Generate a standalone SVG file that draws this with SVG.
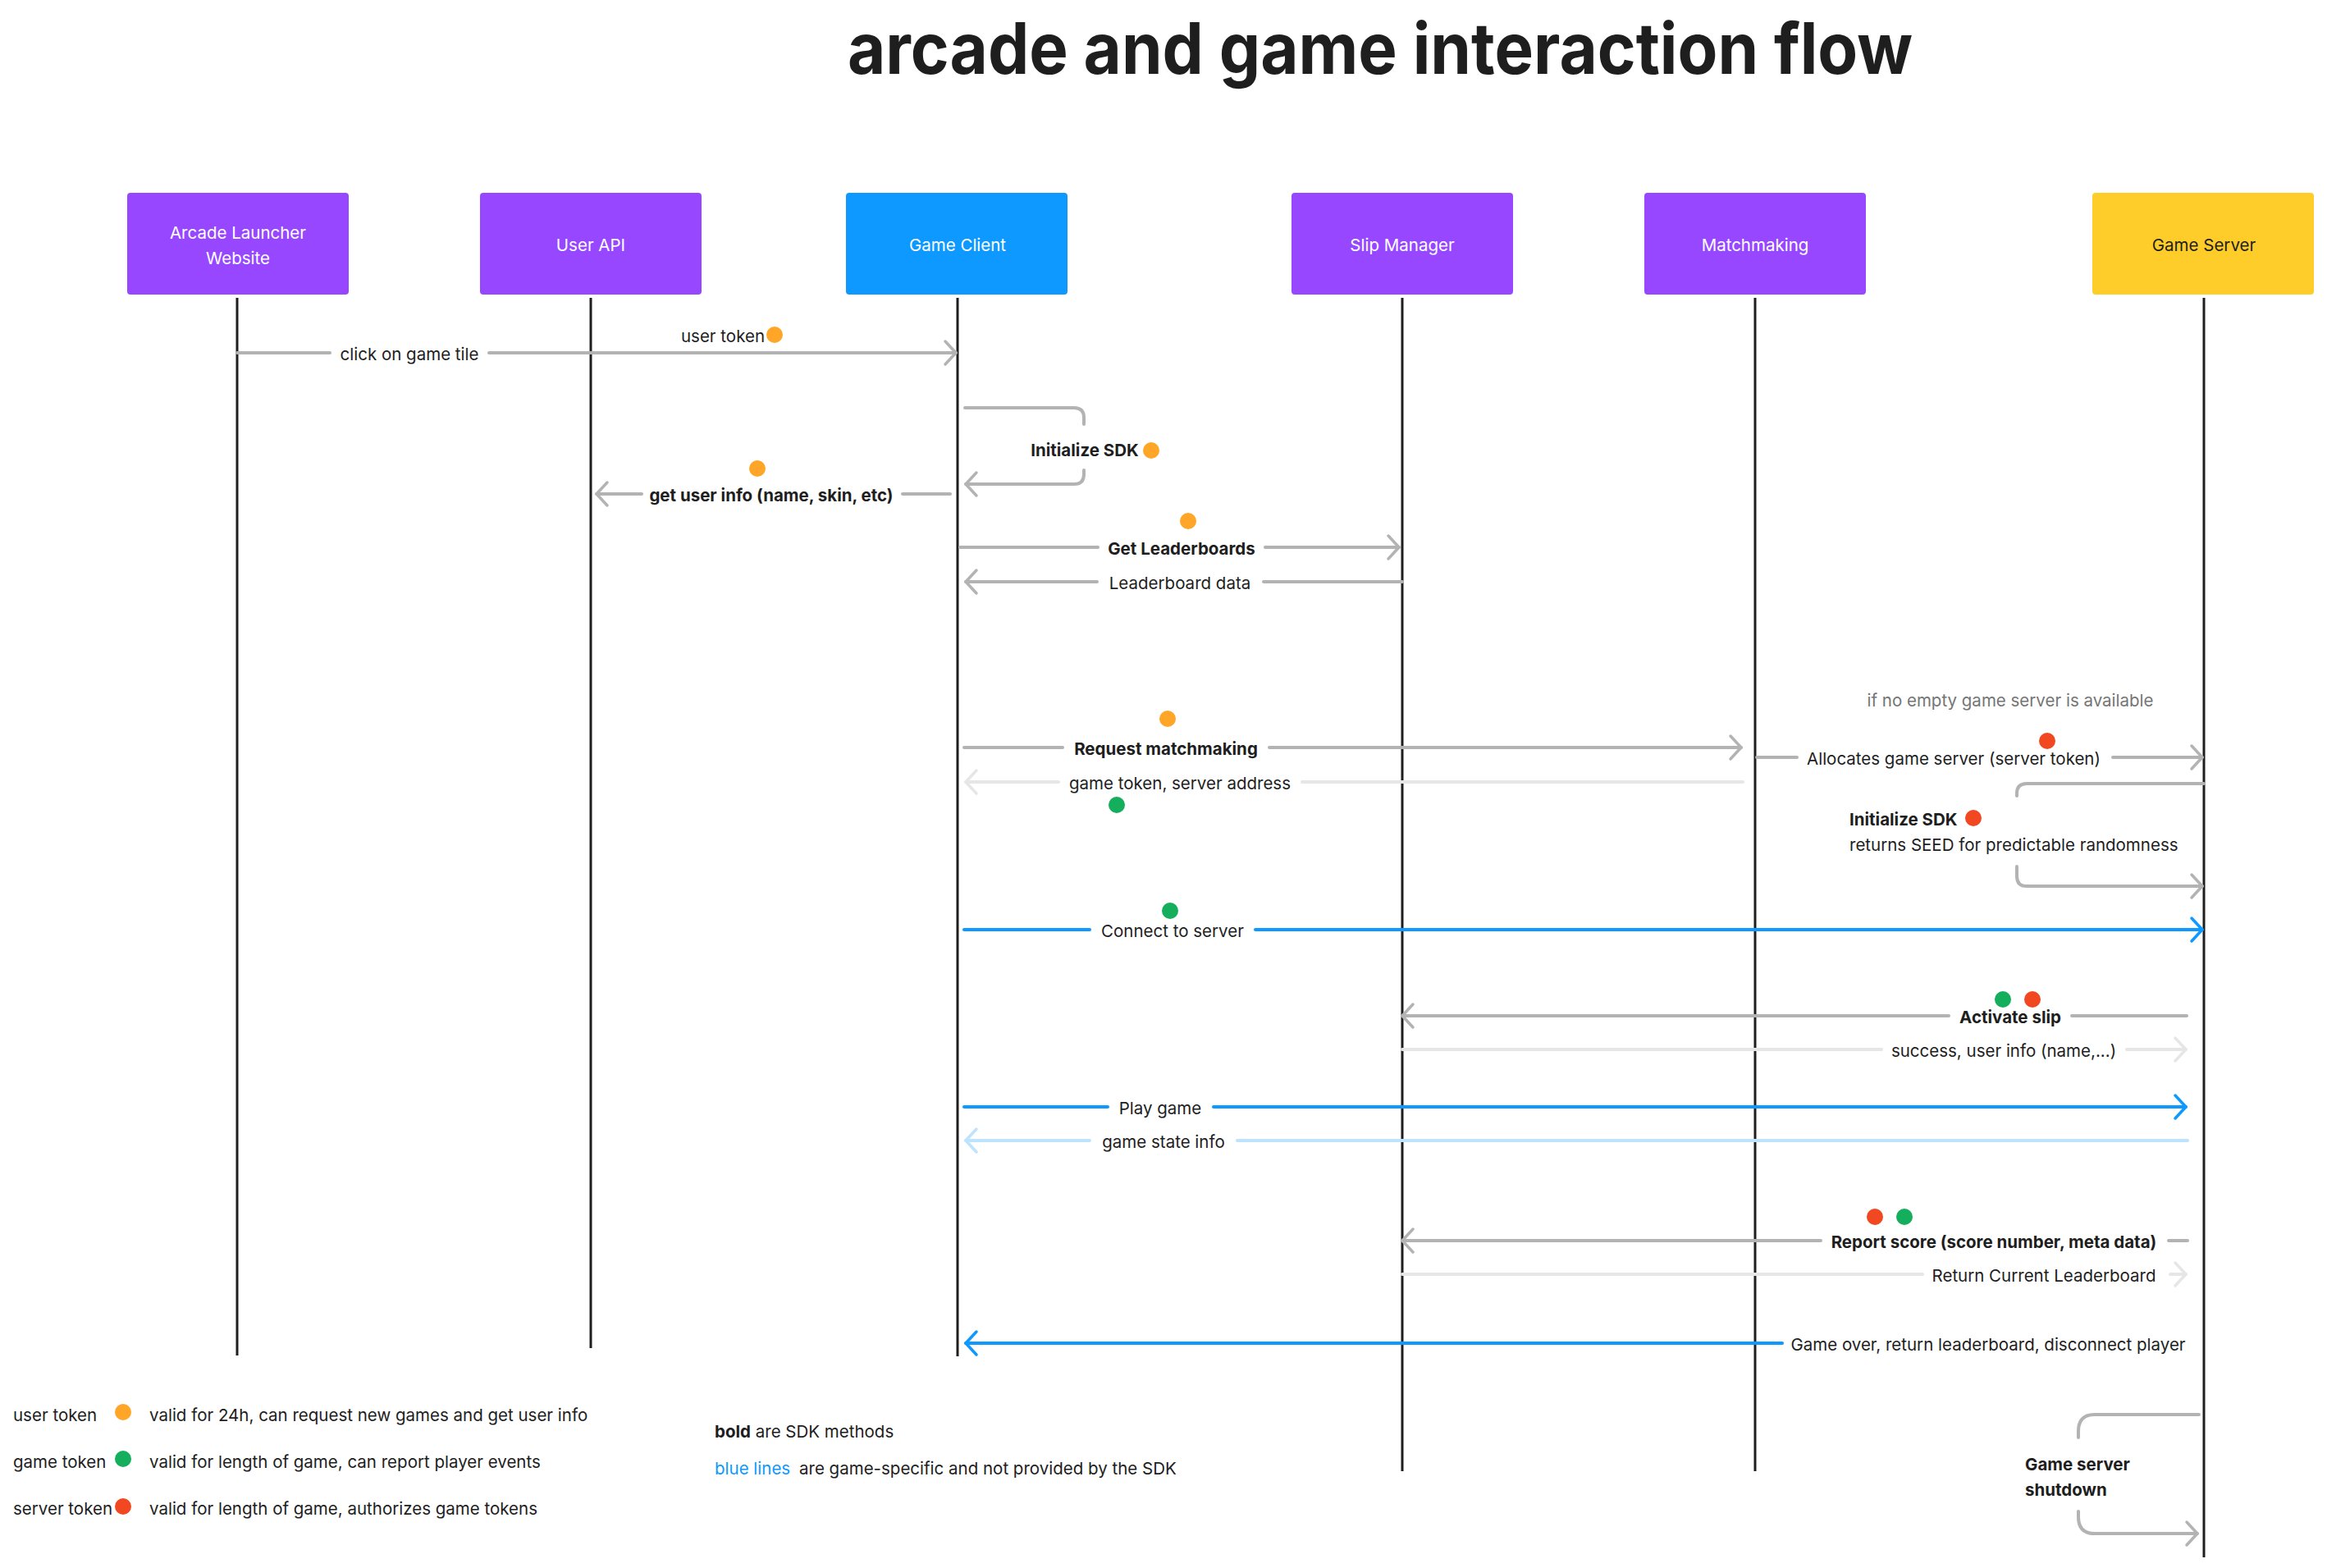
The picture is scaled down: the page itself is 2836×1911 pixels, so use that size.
<svg xmlns="http://www.w3.org/2000/svg" width="2836" height="1911" viewBox="0 0 2836 1911">
<style>
text{font-family:Inter,"Noto Sans",sans-serif;font-size:20.5px;fill:#1e1e1e;dominant-baseline:central}
.b{font-weight:700}
.m{text-anchor:middle}
.e{text-anchor:end}
.nt{fill:#fff;text-anchor:middle;font-size:20.5px}
.life{stroke:#1e1e1e;stroke-width:3;fill:none}
.g{stroke:#b3b3b3;stroke-width:4;fill:none;stroke-linecap:round}
.lg{stroke:#e6e6e6;stroke-width:4;fill:none;stroke-linecap:round}
.bl{stroke:#0d99ff;stroke-width:4;fill:none;stroke-linecap:round}
.lb{stroke:#bde3ff;stroke-width:4;fill:none;stroke-linecap:round}
.o{fill:#ffa629}.gr{fill:#14ae5c}.r{fill:#f24822}
</style>
<defs>
<marker id="ag" markerUnits="userSpaceOnUse" viewBox="-20 -20 40 40" markerWidth="40" markerHeight="40" refX="0" refY="0" orient="auto"><path d="M-13 -14 L0 0 L-13 14" fill="none" stroke="#b3b3b3" stroke-width="3.5" stroke-linecap="round" stroke-linejoin="round"/></marker>
<marker id="alg" markerUnits="userSpaceOnUse" viewBox="-20 -20 40 40" markerWidth="40" markerHeight="40" refX="0" refY="0" orient="auto"><path d="M-13 -14 L0 0 L-13 14" fill="none" stroke="#e6e6e6" stroke-width="3.5" stroke-linecap="round" stroke-linejoin="round"/></marker>
<marker id="abl" markerUnits="userSpaceOnUse" viewBox="-20 -20 40 40" markerWidth="40" markerHeight="40" refX="0" refY="0" orient="auto"><path d="M-13 -14 L0 0 L-13 14" fill="none" stroke="#0d99ff" stroke-width="3.5" stroke-linecap="round" stroke-linejoin="round"/></marker>
<marker id="alb" markerUnits="userSpaceOnUse" viewBox="-20 -20 40 40" markerWidth="40" markerHeight="40" refX="0" refY="0" orient="auto"><path d="M-13 -14 L0 0 L-13 14" fill="none" stroke="#bde3ff" stroke-width="3.5" stroke-linecap="round" stroke-linejoin="round"/></marker>
</defs>
<rect width="2836" height="1911" fill="#fff"/>
<text x="1682" y="59" class="b m" style="font-size:86px" textLength="1298" lengthAdjust="spacingAndGlyphs">arcade and game interaction flow</text>

<g id="lifelines">
<path class="life" d="M289 363 V1652"/>
<path class="life" d="M720 363 V1643"/>
<path class="life" d="M1167 363 V1653"/>
<path class="life" d="M1709 363 V1793"/>
<path class="life" d="M2139 363 V1793"/>
<path class="life" d="M2686 363 V1898"/>
</g>

<g id="node-arcade"><rect x="155" y="235" width="270" height="124" rx="4" fill="#9747ff"/><text class="nt" x="290" y="283">Arcade Launcher</text><text class="nt" x="290" y="314">Website</text></g>
<g id="node-userapi"><rect x="585" y="235" width="270" height="124" rx="4" fill="#9747ff"/><text class="nt" x="720" y="298">User API</text></g>
<g id="node-gameclient"><rect x="1031" y="235" width="270" height="124" rx="4" fill="#0d99ff"/><text class="nt" x="1167" y="298">Game Client</text></g>
<g id="node-slip"><rect x="1574" y="235" width="270" height="124" rx="4" fill="#9747ff"/><text class="nt" x="1709" y="298">Slip Manager</text></g>
<g id="node-matchmaking"><rect x="2004" y="235" width="270" height="124" rx="4" fill="#9747ff"/><text class="nt" x="2139" y="298">Matchmaking</text></g>
<g id="node-gameserver"><rect x="2550" y="235" width="270" height="124" rx="4" fill="#ffcd29"/><text class="nt" x="2686" y="298" style="fill:#1e1e1e">Game Server</text></g>

<g id="connectors">
<path class="g" d="M289 430 H402"/><path class="g" d="M596 430 H1165" marker-end="url(#ag)"/>
<path class="g" d="M1176 497 H1309 Q1321 497 1321 509 V517"/><path class="g" d="M1321 573 V578 Q1321 590 1309 590 H1177" marker-end="url(#ag)"/>
<path class="g" d="M1158 602 H1100"/><path class="g" d="M782 602 H727" marker-end="url(#ag)"/>
<path class="g" d="M1170 667 H1338"/><path class="g" d="M1542 667 H1705" marker-end="url(#ag)"/>
<path class="g" d="M1709 709 H1540"/><path class="g" d="M1337 709 H1177" marker-end="url(#ag)"/>
<path class="g" d="M1175 911 H1295"/><path class="g" d="M1547 911 H2122" marker-end="url(#ag)"/>
<path class="lg" d="M2124 953 H1587"/><path class="lg" d="M1290 953 H1177" marker-end="url(#alg)"/>
<path class="g" d="M2141 923 H2190"/><path class="g" d="M2575 923 H2684" marker-end="url(#ag)"/>
<path class="g" d="M2686 955 H2470 Q2458 955 2458 967 V970"/><path class="g" d="M2458 1056 V1068 Q2458 1080 2470 1080 H2684" marker-end="url(#ag)"/>
<path class="bl" d="M1175 1133 H1328"/><path class="bl" d="M1530 1133 H2684" marker-end="url(#abl)"/>
<path class="g" d="M2665 1238 H2525"/><path class="g" d="M2375 1238 H1709" marker-end="url(#ag)"/>
<path class="lg" d="M1709 1279 H2293"/><path class="lg" d="M2592 1279 H2664" marker-end="url(#alg)"/>
<path class="bl" d="M1175 1349 H1350"/><path class="bl" d="M1479 1349 H2664" marker-end="url(#abl)"/>
<path class="lb" d="M2666 1390 H1508"/><path class="lb" d="M1328 1390 H1177" marker-end="url(#alb)"/>
<path class="g" d="M2666 1512 H2643"/><path class="g" d="M2219 1512 H1709" marker-end="url(#ag)"/>
<path class="lg" d="M1709 1553 H2343"/><path class="lg" d="M2645 1553 H2664" marker-end="url(#alg)"/>
<path class="bl" d="M2172 1637 H1177" marker-end="url(#abl)"/>
<path class="g" d="M2680 1724 H2553 Q2533 1724 2533 1744 V1752"/><path class="g" d="M2533 1842 V1849 Q2533 1869 2553 1869 H2678" marker-end="url(#ag)"/>
</g>

<g id="labels">
<text class="m" x="499" y="431">click on game tile</text>
<text class="e" x="932" y="409">user token</text><circle class="o" cx="944" cy="408" r="10"/>
<text class="b m" x="1322" y="548">Initialize SDK</text><circle class="o" cx="1403" cy="549" r="10"/>
<text class="b m" x="940" y="603">get user info (name, skin, etc)</text><circle class="o" cx="923" cy="571" r="10"/>
<text class="b m" x="1440" y="668">Get Leaderboards</text><circle class="o" cx="1448" cy="635" r="10"/>
<text class="m" x="1438" y="710">Leaderboard data</text>
<text class="m" x="2450" y="853" style="fill:#757575">if no empty game server is available</text>
<text class="b m" x="1421" y="912">Request matchmaking</text><circle class="o" cx="1423" cy="876" r="10"/>
<text class="m" x="1438" y="954">game token, server address</text><circle class="gr" cx="1361" cy="981" r="10"/>
<text class="m" x="2381" y="924">Allocates game server (server token)</text><circle class="r" cx="2495" cy="903" r="10"/>
<text class="b" x="2254" y="998">Initialize SDK</text><circle class="r" cx="2405" cy="997" r="10"/>
<text x="2254" y="1029">returns SEED for predictable randomness</text>
<text class="m" x="1429" y="1134">Connect to server</text><circle class="gr" cx="1426" cy="1110" r="10"/>
<text class="b m" x="2450" y="1239">Activate slip</text><circle class="gr" cx="2441" cy="1218" r="10"/><circle class="r" cx="2477" cy="1218" r="10"/>
<text class="m" x="2442" y="1280">success, user info (name,...)</text>
<text class="m" x="1414" y="1350">Play game</text>
<text class="m" x="1418" y="1391">game state info</text>
<text class="b m" x="2430" y="1513">Report score (score number, meta data)</text><circle class="r" cx="2285" cy="1483" r="10"/><circle class="gr" cx="2321" cy="1483" r="10"/>
<text class="m" x="2491" y="1554">Return Current Leaderboard</text>
<text class="m" x="2423" y="1638">Game over, return leaderboard, disconnect player</text>
<text class="b" x="2468" y="1784">Game server</text>
<text class="b" x="2468" y="1815">shutdown</text>
</g>

<g id="legend">
<text x="16" y="1724">user token</text><circle class="o" cx="150" cy="1721" r="10"/><text x="182" y="1724">valid for 24h, can request new games and get user info</text>
<text x="16" y="1781">game token</text><circle class="gr" cx="150" cy="1778" r="10"/><text x="182" y="1781">valid for length of game, can report player events</text>
<text x="16" y="1838">server token</text><circle class="r" cx="150" cy="1836" r="10"/><text x="182" y="1838">valid for length of game, authorizes game tokens</text>
<text x="871" y="1744"><tspan class="b">bold</tspan> are SDK methods</text>
<text x="871" y="1789" style="fill:#0d99ff">blue lines</text><text x="974" y="1789">are game-specific and not provided by the SDK</text>
</g>
</svg>
